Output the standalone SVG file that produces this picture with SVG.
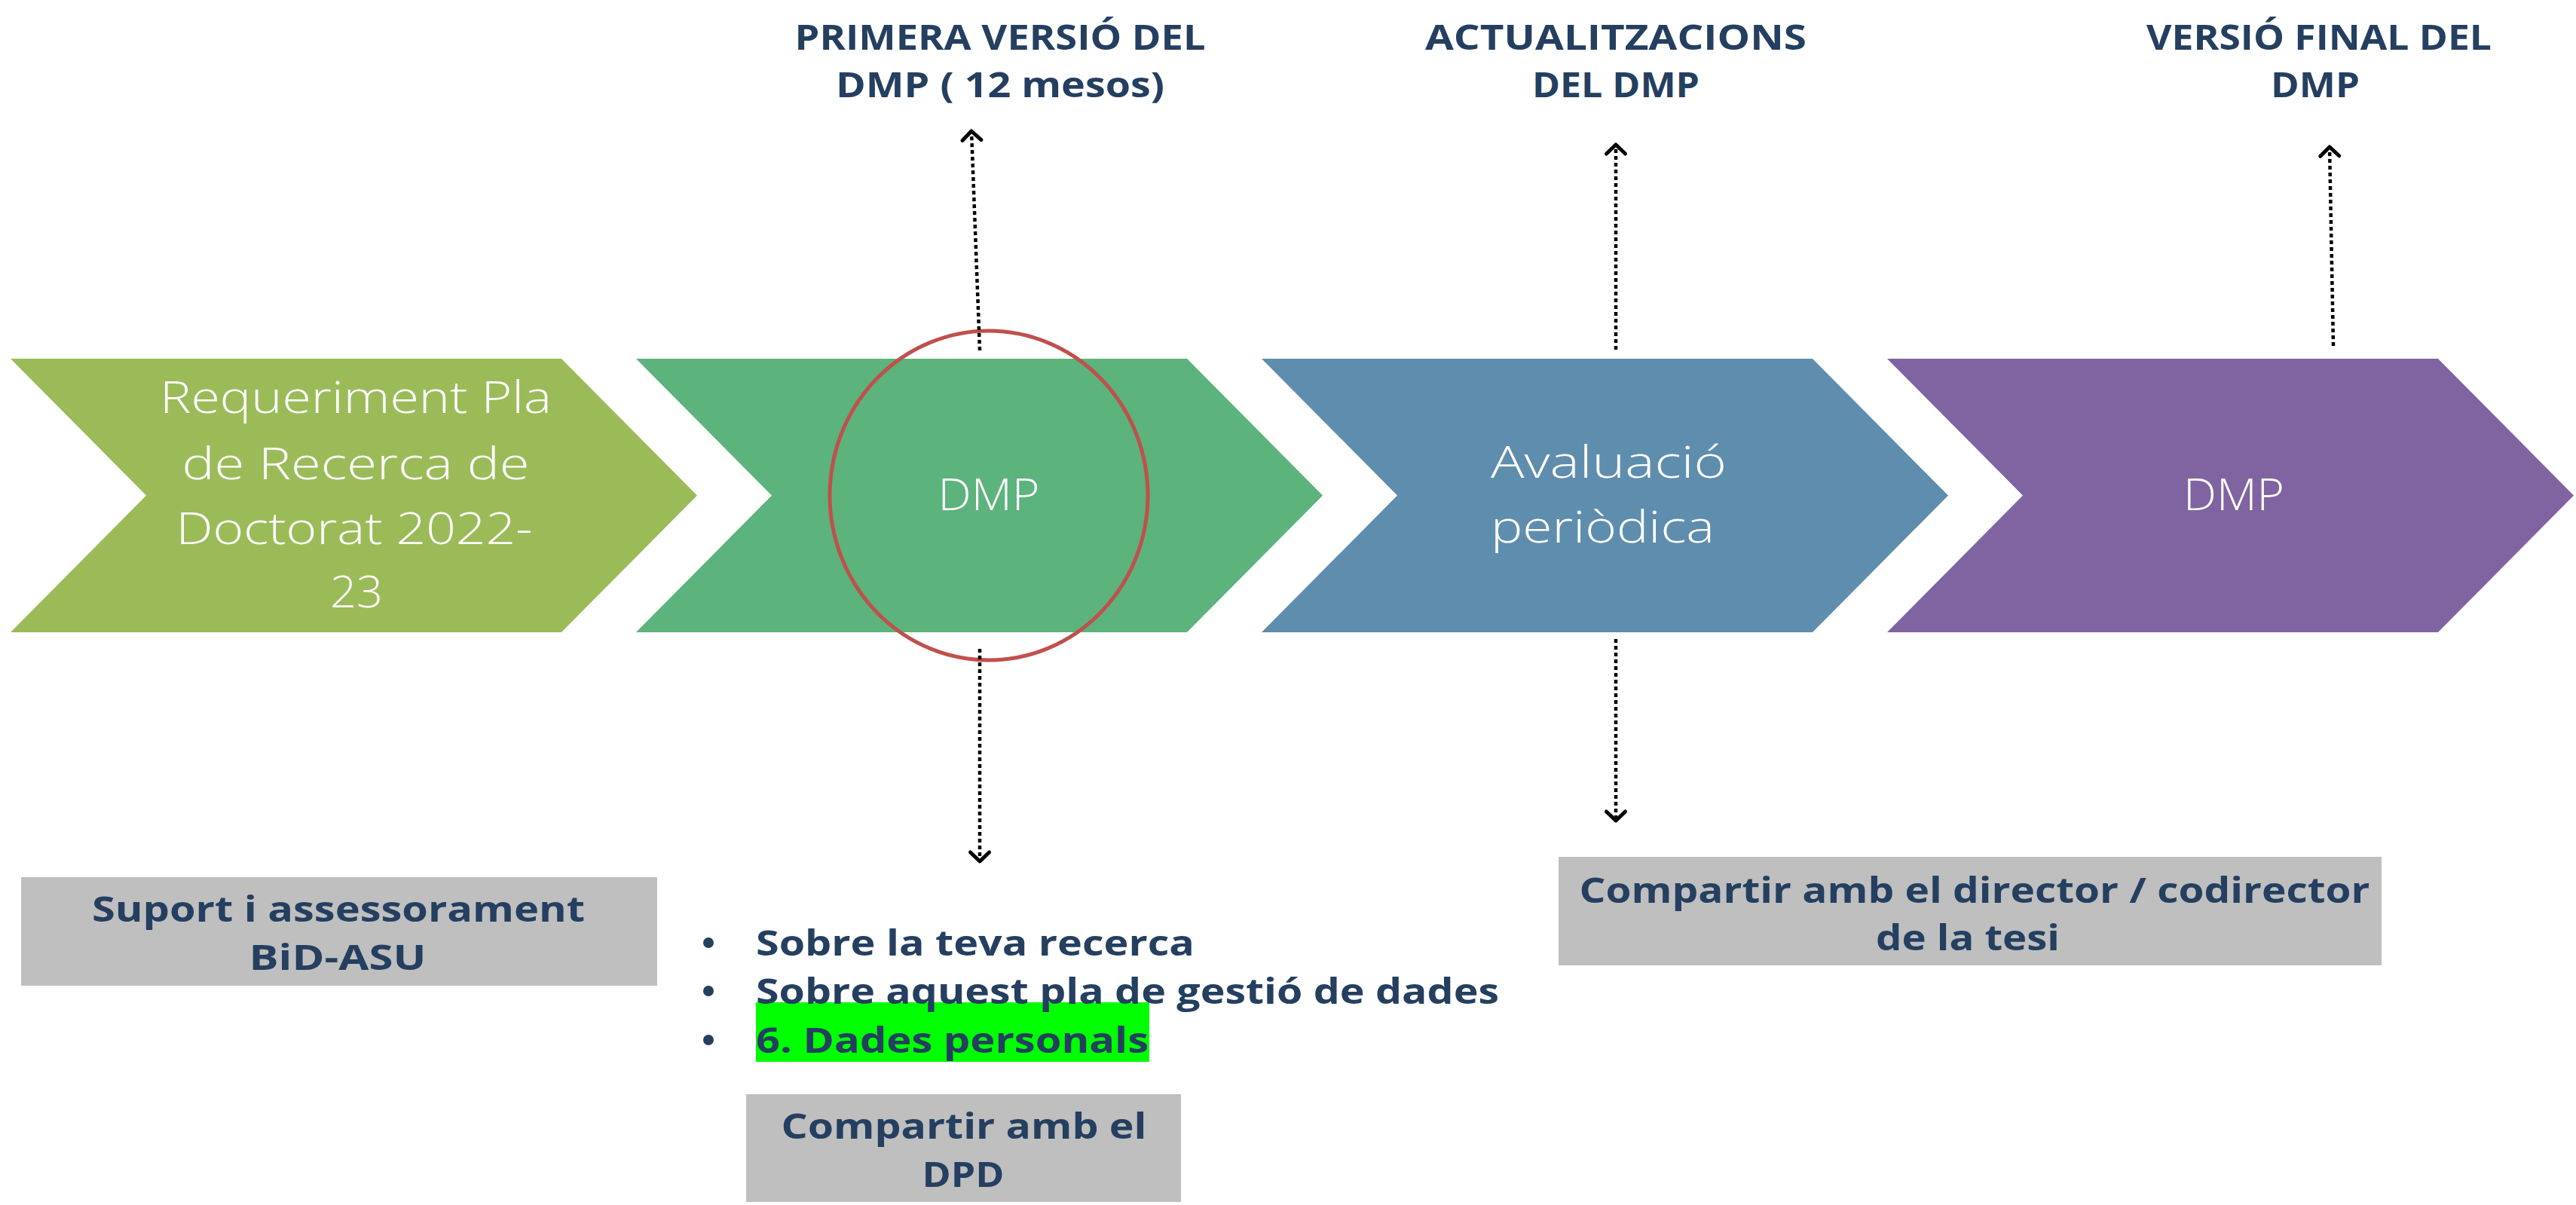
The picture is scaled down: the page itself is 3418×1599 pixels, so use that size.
<svg xmlns="http://www.w3.org/2000/svg" width="3418" height="1599" viewBox="0 0 3418 1599">
<defs>
<style>
.lbl{font-family:"Open Sans","Liberation Sans",sans-serif;font-weight:700;font-size:46px;fill:#243F60}
.wt{font-family:"Open Sans","Liberation Sans",sans-serif;font-weight:300;font-size:58px;fill:#FFFFFF}
.box{fill:#BFBFBF}
.conn{fill:none;stroke:#000000;stroke-width:4.5;stroke-dasharray:5 4}
.mid{text-anchor:middle}
</style>
<marker id="ah" markerUnits="userSpaceOnUse" viewBox="-20 -20 30 40" markerWidth="30" markerHeight="40" refX="0" refY="0" orient="auto">
<path d="M -12 -12.5 L 0 0 L -12 12.5" fill="none" stroke="#000000" stroke-width="5" stroke-linecap="round" stroke-linejoin="round"/>
</marker>
</defs>
<rect width="3418" height="1599" fill="#FFFFFF"/>

<g id="chevron1">
<path d="M 14 476 H 745 L 925 657.5 L 745 839 H 14 L 194 657.5 Z" fill="#9BBB59"/>
<text class="wt mid" x="472" y="548" textLength="520" lengthAdjust="spacingAndGlyphs">Requeriment Pla</text>
<text class="wt mid" x="472" y="636" textLength="461" lengthAdjust="spacingAndGlyphs">de Recerca de</text>
<text class="wt mid" x="470" y="722" textLength="473" lengthAdjust="spacingAndGlyphs">Doctorat 2022-</text>
<text class="wt mid" x="473" y="806" textLength="70" lengthAdjust="spacingAndGlyphs">23</text>
</g>

<g id="chevron2">
<path d="M 844 476 H 1575 L 1755 657.5 L 1575 839 H 844 L 1024 657.5 Z" fill="#5CB37C"/>
<text class="wt mid" x="1312" y="677" textLength="135" lengthAdjust="spacingAndGlyphs">DMP</text>
</g>

<g id="chevron3">
<path d="M 1674 476 H 2405 L 2585 657.5 L 2405 839 H 1674 L 1854 657.5 Z" fill="#5F8DAD"/>
<text class="wt" x="1978" y="634" textLength="313" lengthAdjust="spacingAndGlyphs">Avaluació</text>
<text class="wt" x="1978" y="720" textLength="297" lengthAdjust="spacingAndGlyphs">periòdica</text>
</g>

<g id="chevron4">
<path d="M 2504 476 H 3235 L 3415 657.5 L 3235 839 H 2504 L 2684 657.5 Z" fill="#8064A2"/>
<text class="wt mid" x="2964" y="677" textLength="134" lengthAdjust="spacingAndGlyphs">DMP</text>
</g>

<g id="highlight-circle">
<ellipse cx="1312" cy="657.5" rx="211" ry="218.5" fill="none" stroke="#C0504D" stroke-width="5"/>
</g>

<g id="label-primera">
<text class="lbl mid" x="1327" y="66" textLength="545" lengthAdjust="spacingAndGlyphs">PRIMERA VERSIÓ DEL</text>
<text class="lbl mid" x="1327" y="129" textLength="436" lengthAdjust="spacingAndGlyphs">DMP ( 12 mesos)</text>
</g>

<g id="label-actualitzacions">
<text class="lbl mid" x="2144" y="66" textLength="506" lengthAdjust="spacingAndGlyphs">ACTUALITZACIONS</text>
<text class="lbl mid" x="2144" y="129" textLength="222" lengthAdjust="spacingAndGlyphs">DEL DMP</text>
</g>

<g id="label-final">
<text class="lbl mid" x="3077" y="66" textLength="458" lengthAdjust="spacingAndGlyphs">VERSIÓ FINAL DEL</text>
<text class="lbl mid" x="3072" y="129" textLength="118" lengthAdjust="spacingAndGlyphs">DMP</text>
</g>

<g id="box-suport">
<rect class="box" x="28" y="1164" width="844" height="144"/>
<text class="lbl mid" x="449" y="1223" textLength="654" lengthAdjust="spacingAndGlyphs">Suport i assessorament</text>
<text class="lbl mid" x="448" y="1287" textLength="235" lengthAdjust="spacingAndGlyphs">BiD-ASU</text>
</g>

<g id="bullet-list">
<rect x="1003" y="1330" width="522" height="79" fill="#00FF00"/>
<circle cx="940" cy="1251" r="7" fill="#243F60"/>
<circle cx="940" cy="1315" r="7" fill="#243F60"/>
<circle cx="940" cy="1380" r="7" fill="#243F60"/>
<text class="lbl" x="1003" y="1268" textLength="582" lengthAdjust="spacingAndGlyphs">Sobre la teva recerca</text>
<text class="lbl" x="1003" y="1332" textLength="986" lengthAdjust="spacingAndGlyphs">Sobre aquest pla de gestió de dades</text>
<text class="lbl" x="1003" y="1397" textLength="521" lengthAdjust="spacingAndGlyphs">6. Dades personals</text>
</g>

<g id="box-dpd">
<rect class="box" x="990" y="1452" width="577" height="143"/>
<text class="lbl mid" x="1279" y="1511" textLength="485" lengthAdjust="spacingAndGlyphs">Compartir amb el</text>
<text class="lbl mid" x="1278" y="1575" textLength="109" lengthAdjust="spacingAndGlyphs">DPD</text>
</g>

<g id="box-director">
<rect class="box" x="2068" y="1137" width="1092" height="144"/>
<text class="lbl mid" x="2620" y="1198" textLength="1049" lengthAdjust="spacingAndGlyphs">Compartir amb el director / codirector</text>
<text class="lbl mid" x="2611" y="1261" textLength="244" lengthAdjust="spacingAndGlyphs">de la tesi</text>
</g>

<g id="connectors">
<path class="conn" d="M 1300 465 L 1289 174" marker-end="url(#ah)"/>
<path class="conn" d="M 1300 861 L 1300 1143" marker-end="url(#ah)"/>
<path class="conn" d="M 2144 464 L 2144 192" marker-end="url(#ah)"/>
<path class="conn" d="M 2144 848 L 2144 1089" marker-end="url(#ah)"/>
<path class="conn" d="M 3096 459 L 3091 195" marker-end="url(#ah)"/>
</g>
</svg>
